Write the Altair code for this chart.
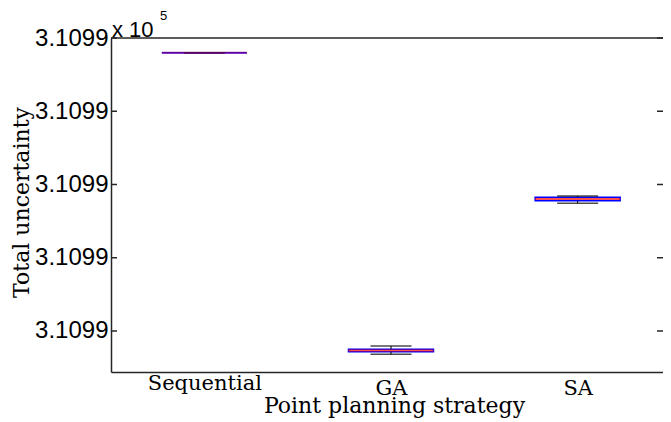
import altair as alt
import pandas as pd

# ---- data ----
categories = ["Sequential", "GA", "SA"]
lower_whisker = [310992.900, 310990.841, 310991.872]
q1_values = [310992.900, 310990.859, 310991.889]
median_values = [310992.900, 310990.867, 310991.901]
q3_values = [310992.900, 310990.875, 310991.913]
upper_whisker = [310992.900, 310990.898, 310991.921]

y_ticks = [310991.0, 310991.5, 310992.0, 310992.5, 310993.0]
y_domain = [310990.72, 310993.0]

exponent_base = ["x 10"]
exponent_power = ["5"]
x_title = "Point planning strategy"
y_title = "Total uncertainty"

df = pd.DataFrame({
    "strategy": categories,
    "lo": lower_whisker,
    "q1": q1_values,
    "med": median_values,
    "q3": q3_values,
    "hi": upper_whisker,
})
ticks_df = pd.DataFrame({"v": y_ticks})

W, H = 560, 334
serif = "DejaVu Serif"
sans = "Liberation Sans"
frame = "#262626"

x_enc = alt.X(
    "strategy:N",
    scale=alt.Scale(type="point", padding=0.5, domain=categories),
    axis=alt.Axis(
        title=x_title, ticks=False, labelAngle=0, labelFont=serif, labelFontSize=21,
        labelPadding=0, labelLineHeight=32,
        labelBaseline={"condition": {"test": "datum.value == 'Sequential'", "value": "top"},
                       "value": "line-top"},
        labelColor="black", titleColor="black",
        titleFont=serif, titleFontSize=22, titleFontWeight="normal",
        titleBaseline="alphabetic", titleY=40, titleX=283,
        domainColor=frame, domainWidth=1.5, grid=False,
    ),
)
y_scale = alt.Scale(domain=y_domain, nice=False, zero=False)
y_axis = alt.Axis(
    title=y_title, values=y_ticks, ticks=False, grid=False,
    labelExpr="format(datum.value / 100000, '.4f')",
    labelFont=sans, labelFontSize=24, labelPadding=3, labelColor="black",
    titleFont=serif, titleFontSize=22, titleFontWeight="normal", titleColor="black",
    titleX=-83, titleY=164, titleBaseline="alphabetic",
    domainColor=frame, domainWidth=1.5,
)

def Y(field):
    return alt.Y(field, scale=y_scale, axis=y_axis)

base = alt.Chart(df)

box = base.mark_bar(size=85, fillOpacity=0, stroke="#0000FF", strokeWidth=1.5).encode(
    x=x_enc, y=Y("q1:Q"), y2="q3:Q")
whisk_up = base.mark_rule(color="black", strokeDash=[4, 3], strokeWidth=1).encode(
    x=x_enc, y=Y("q3:Q"), y2="hi:Q")
whisk_lo = base.mark_rule(color="black", strokeDash=[4, 3], strokeWidth=1).encode(
    x=x_enc, y=Y("lo:Q"), y2="q1:Q")
cap_up = base.mark_tick(color="black", size=41, thickness=1.5).encode(x=x_enc, y=Y("hi:Q"))
cap_lo = base.mark_tick(color="black", size=41, thickness=1.5).encode(x=x_enc, y=Y("lo:Q"))
med = base.mark_tick(size=85, thickness=2).encode(
    x=x_enc, y=Y("med:Q"),
    color=alt.condition("datum.q1 == datum.q3", alt.value("#800080"), alt.value("#FF0000")),
)

tick_l = alt.Chart(ticks_df).mark_rule(color=frame, strokeWidth=1.5).encode(
    y=Y("v:Q"), x=alt.value(0), x2=alt.value(6))
tick_r = alt.Chart(ticks_df).mark_rule(color=frame, strokeWidth=1.5).encode(
    y=Y("v:Q"), x=alt.value(W - 14), x2=alt.value(W - 8))
top_frame = alt.Chart(pd.DataFrame({"a": [0]})).mark_rule(color=frame, strokeWidth=1.5).encode(
    y=alt.value(0), x=alt.value(0), x2=alt.value(W))

exp_base = alt.Chart(pd.DataFrame({"t": exponent_base})).mark_text(
    align="left", baseline="alphabetic", font=sans, fontSize=22, color="black").encode(
    text="t:N", x=alt.value(1), y=alt.value(-1))
exp_pow = alt.Chart(pd.DataFrame({"t": exponent_power})).mark_text(
    align="left", baseline="alphabetic", font=sans, fontSize=13, color="black").encode(
    text="t:N", x=alt.value(49), y=alt.value(-18))

chart = alt.layer(
    box, whisk_up, whisk_lo, cap_up, cap_lo, med, tick_l, tick_r, top_frame, exp_base, exp_pow
).properties(
    width=W, height=H,
    padding={"left": 103, "top": 30, "right": -8, "bottom": 48},
    autosize=alt.AutoSizeParams(type="none"),
    background="white",
).configure_view(stroke=None)

chart.save("out.html", embed_options={"renderer": "svg", "actions": False})
